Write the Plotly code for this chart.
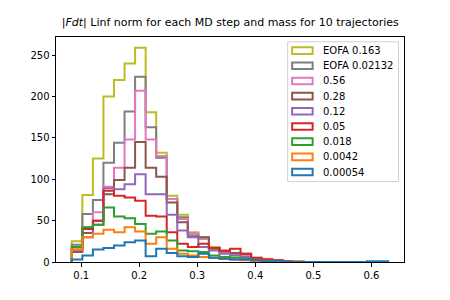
import numpy as np
import plotly.graph_objects as go

# Histogram bin range (30 equal bins)
bin_lo = 0.0838
bin_hi = 0.629
n_bins = 30

labels = ["EOFA 0.163", "EOFA 0.02132", "0.56", "0.28", "0.12", "0.05", "0.018", "0.0042", "0.00054"]
colors = ["#bcbd22", "#7f7f7f", "#e377c2", "#8c564b", "#9467bd", "#d62728", "#2ca02c", "#ff7f0e", "#1f77b4"]

counts_eofa_0163 = [25, 81, 125, 200, 220, 240, 259, 181, 132, 80, 57, 36, 30, 18, 12, 10, 9, 5, 4, 2, 1, 1, 0, 0, 0, 0, 0, 0, 0, 0]
counts_eofa_002132 = [21, 58, 75, 120, 144, 182, 224, 163, 126, 76, 54, 34, 28, 17, 12, 10, 8, 4, 3, 2, 1, 0, 0, 0, 0, 0, 0, 0, 0, 0]
counts_056 = [14, 42, 60, 91, 114, 148, 207, 148, 128, 76, 52, 35, 29, 17, 11, 10, 8, 4, 3, 1, 1, 0, 0, 0, 0, 0, 0, 0, 0, 0]
counts_028 = [12, 35, 50, 82, 99, 114, 145, 114, 103, 72, 48, 31, 30, 16, 13, 11, 10, 3, 2, 1, 0, 0, 0, 0, 0, 0, 0, 0, 0, 0]
counts_012 = [15, 30, 45, 89, 88, 94, 106, 82, 82, 57, 38, 30, 18, 14, 10, 8, 6, 4, 2, 1, 0, 0, 0, 0, 0, 0, 0, 0, 0, 0]
counts_005 = [18, 40, 50, 86, 80, 78, 74, 56, 55, 36, 22, 18, 22, 17, 14, 16, 10, 5, 3, 2, 1, 0, 0, 0, 0, 0, 0, 0, 0, 0]
counts_0018 = [18, 42, 45, 66, 55, 53, 46, 34, 37, 26, 14, 13, 12, 8, 6, 5, 4, 2, 1, 1, 0, 0, 0, 0, 0, 0, 0, 0, 0, 0]
counts_00042 = [15, 30, 34, 39, 36, 42, 37, 22, 30, 16, 10, 8, 6, 5, 4, 3, 2, 1, 1, 0, 0, 1, 0, 0, 0, 0, 0, 0, 0, 0]
counts_000054 = [3, 8, 15, 17, 20, 24, 26, 7, 16, 11, 7, 6, 10, 5, 4, 3, 3, 2, 1, 1, 0, 0, 0, 0, 0, 0, 0, 0, 1, 1]

series = [counts_eofa_0163, counts_eofa_002132, counts_056, counts_028, counts_012,
          counts_005, counts_0018, counts_00042, counts_000054]

x_ticks = [0.1, 0.2, 0.3, 0.4, 0.5, 0.6]
y_ticks = [0, 50, 100, 150, 200, 250]

# page body has an 8px margin; lay out in page pixels and shift into figure pixels
OFF = 8
W, H = 450, 300
# plot area in page pixels
P_L, P_R, P_T, P_B = 56, 404.5, 36.7, 262
ML, MT = P_L - OFF, P_T - OFF
MR, MB = W - (P_R - OFF), H - (P_B - OFF)
PW, PH = P_R - P_L, P_B - P_T

edges = np.linspace(bin_lo, bin_hi, n_bins + 1)

fig = go.Figure()
for lab, col, cnt in zip(labels, colors, series):
    cnt = np.asarray(cnt, dtype=float)
    xs = np.repeat(edges, 2)
    ys = np.concatenate([[0.0], np.repeat(cnt, 2), [0.0]])
    fig.add_trace(go.Scatter(x=xs, y=ys, mode="lines", line=dict(color=col, width=2),
                             name=lab, showlegend=False, hoverinfo="skip"))


def px2paper_x(px):
    return (px - P_L) / PW


def px2paper_y(py):
    return (P_B - py) / PH


# Legend (matplotlib style: outlined rectangles, compact rows), page pixels
leg_left, leg_right, leg_top, leg_bottom = 288, 399, 41.5, 181.5
row_h = 15.2
shapes = [dict(type="rect", xref="paper", yref="paper",
               x0=px2paper_x(leg_left), x1=px2paper_x(leg_right),
               y0=px2paper_y(leg_bottom), y1=px2paper_y(leg_top),
               line=dict(color="#d0d0d0", width=1), fillcolor="rgba(255,255,255,0.8)", layer="above")]
annotations = []
for i, (lab, col) in enumerate(zip(labels, colors)):
    cy = leg_top + 8.8 + i * row_h
    shapes.append(dict(type="rect", xref="paper", yref="paper",
                       x0=px2paper_x(292.5), x1=px2paper_x(313),
                       y0=px2paper_y(cy + 3.3), y1=px2paper_y(cy - 3.3),
                       line=dict(color=col, width=2), fillcolor="rgba(0,0,0,0)", layer="above"))
    annotations.append(dict(text=lab, xref="paper", yref="paper",
                            x=px2paper_x(321), y=px2paper_y(cy),
                            xanchor="left", yanchor="middle", showarrow=False,
                            font=dict(family="DejaVu Sans", size=10, color="black")))

ymax = max(max(s) for s in series)
span = bin_hi - bin_lo
fig.update_layout(
    width=W, height=H,
    margin=dict(l=ML, r=MR, t=MT, b=MB, autoexpand=False),
    paper_bgcolor="white", plot_bgcolor="white",
    font=dict(family="DejaVu Sans", size=10, color="black"),
    title=dict(text="|<i>Fdt</i>| Linf norm for each MD step and mass for 10 trajectories",
               x=((P_L + P_R) / 2 - OFF) / W, xref="container", xanchor="center",
               y=1 - (22 - OFF) / H, yref="container", yanchor="middle",
               font=dict(family="DejaVu Sans", size=11, color="black")),
    showlegend=False,
    shapes=shapes,
    annotations=annotations,
)
fig.update_xaxes(range=[bin_lo - 0.05 * span, bin_hi + 0.05 * span], tickvals=x_ticks,
                 ticktext=[f"{v:.1f}" for v in x_ticks], automargin=False,
                 showline=True, linecolor="black", linewidth=1, mirror=True,
                 ticks="outside", ticklen=3.5, tickcolor="black", showgrid=False, zeroline=False)
fig.update_yaxes(range=[0, ymax * 1.05], tickvals=y_ticks, automargin=False,
                 showline=True, linecolor="black", linewidth=1, mirror=True,
                 ticks="outside", ticklen=3.5, tickcolor="black", showgrid=False, zeroline=False)

fig.write_html("out.html")
